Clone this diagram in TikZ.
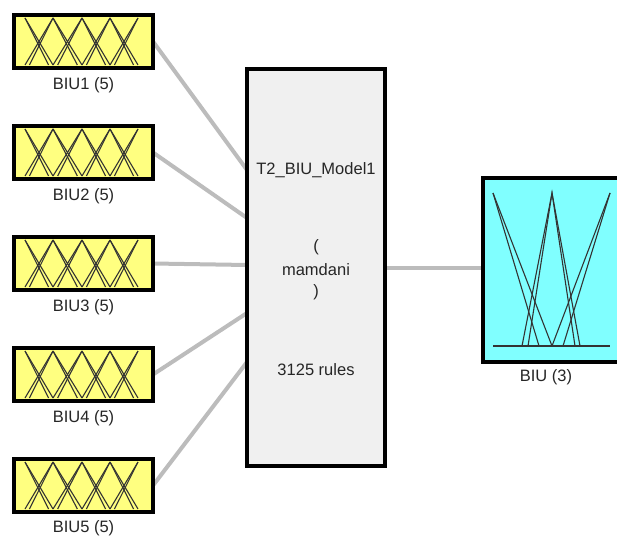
\documentclass[tikz,border=0pt]{standalone}
\usepackage{fontspec}
\setmainfont{Liberation Sans}
\usetikzlibrary{backgrounds,calc}
\definecolor{inyellow}{RGB}{255,255,128}
\definecolor{outcyan}{RGB}{128,255,255}
\definecolor{fisgray}{RGB}{240,240,240}
\definecolor{conngray}{RGB}{188,188,188}
\tikzset{
  inbox/.style={draw=black, line width=3.5pt, fill=inyellow, minimum width=139pt, minimum height=53pt, inner sep=0pt, outer sep=0pt},
  fisbox/.style={draw=black, line width=3.5pt, fill=fisgray, minimum width=138pt, minimum height=397pt, inner sep=0pt, outer sep=0pt},
  outbox/.style={draw=black, line width=3.5pt, fill=outcyan, minimum width=138pt, minimum height=184pt, inner sep=0pt, outer sep=0pt},
  lbl/.style={font=\fontsize{16.5}{19}\selectfont, inner sep=0pt, text=black!85},
  conn/.style={draw=conngray, line width=4pt},
  mf/.style={draw=black!80, line width=1.1pt},
}
\begin{document}
\begin{tikzpicture}[x=1pt,y=-1pt]
\useasboundingbox (0,0) rectangle (617,537);
\clip (0,0) rectangle (617,537);
% input boxes
\foreach \k/\cy/\ly in {1/41.5/85, 2/152.5/196, 3/263.5/307, 4/374.5/418, 5/485.5/528}{
  \node[inbox] (in\k) at (83.5,\cy) {};
  \node[lbl] (lab\k) at (83.5,\ly) {BIU\k{} (5)};
  \begin{scope}[shift={(12,\cy-28.5)}]
    \foreach \a/\b in {13/41, 41/70, 70/98, 98/126}{
      \pgfmathsetmacro{\d}{\b-\a}
      \draw[mf] (\a,5) -- (\b,52);
      \draw[mf] (\a,5) -- ({\b-0.16*\d},52);
      \draw[mf] (\b,5) -- (\a,52);
      \draw[mf] (\b,5) -- ({\a+0.16*\d},52);
    }
  \end{scope}
}
% FIS box
\node[fisbox] (fis) at (316,267.5) {};
\node[lbl] (t1) at (316,170) {T2\_BIU\_Model1};
\node[lbl] (t2) at (316,247) {(};
\node[lbl] (t3) at (316,270) {mamdani};
\node[lbl] (t4) at (316,292) {)};
\node[lbl] (t5) at (316,370) {3125 rules};
% output box
\node[outbox] (out) at (552,270) {};
\node[lbl] (olab) at (546,377) {BIU (3)};
\draw[mf] (493,346) -- (610,346);
\draw[mf] (493,193) -- (552,346);
\draw[mf] (493,193) -- (539,346);
\draw[mf] (522,346) -- (552,193) -- (580,346);
\draw[mf] (528,346) -- (552,193) -- (575,346);
\draw[mf] (610,193) -- (552,346);
\draw[mf] (610,193) -- (563,346);
% connection points
\coordinate (f1) at (247,170);
\coordinate (f2) at (247,218);
\coordinate (f3) at (247,265);
\coordinate (f4) at (247,313);
\coordinate (f5) at (247,362);
\begin{scope}[on background layer]
  \foreach \k in {1,...,5}{
    \draw[conn] (in\k.east) -- (f\k);
  }
  \draw[conn] (fis.east |- 0,268) -- (out.west |- 0,268);
\end{scope}
\end{tikzpicture}
\end{document}
